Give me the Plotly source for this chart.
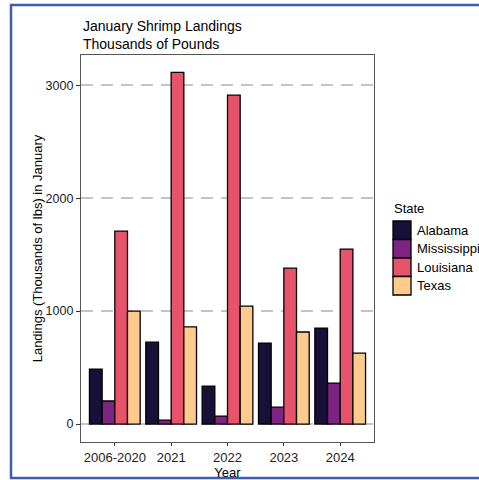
import plotly.graph_objects as go

years = ["2006-2020", "2021", "2022", "2023", "2024"]
states = ["Alabama", "Mississippi", "Louisiana", "Texas"]
alabama = [487, 725, 336, 717, 850]
mississippi = [204, 35, 70, 150, 363]
louisiana = [1708, 3115, 2912, 1380, 1549]
texas = [1000, 860, 1045, 815, 628]
colors = ["#171039", "#7D2482", "#E7536A", "#FDCB8E"]

series = [alabama, mississippi, louisiana, texas]

W, H = 479, 480
L, R, T, B = 81, 374, 55, 442

fig = go.Figure()
for name, vals, col in zip(states, series, colors):
    fig.add_trace(go.Bar(
        x=years, y=vals, name=name, showlegend=False,
        marker=dict(color=col, line=dict(color="black", width=1.3)),
    ))

def px_x(p):
    return (p - L) / (R - L)

def px_y(p):
    return (B - p) / (B - T)

# custom legend (keys + labels) built from the state / colour lists
shapes = [dict(
    type="rect", xref="paper", yref="paper",
    x0=px_x(11), x1=px_x(500), y0=px_y(478), y1=px_y(5),
    line=dict(color="#3F5BB5", width=2.5), fillcolor="rgba(0,0,0,0)",
    layer="above",
)]
annotations = [dict(
    text="January Shrimp Landings<br>Thousands of Pounds",
    xref="paper", yref="paper", x=0, y=px_y(16),
    xanchor="left", yanchor="top", align="left", showarrow=False,
    font=dict(size=14, color="black"),
), dict(
    text="State", xref="paper", yref="paper", x=px_x(392), y=px_y(208),
    xanchor="left", yanchor="middle", showarrow=False,
    font=dict(size=13, color="black"),
)]
key_top, key_h = 221, 18.5
for i, (name, col) in enumerate(zip(states, colors)):
    t = key_top + i * key_h
    shapes.append(dict(
        type="rect", xref="paper", yref="paper",
        x0=px_x(393), x1=px_x(411), y0=px_y(t + key_h), y1=px_y(t),
        fillcolor=col, line=dict(color="black", width=1.3), layer="above",
    ))
    annotations.append(dict(
        text=name, xref="paper", yref="paper", x=px_x(415), y=px_y(t + key_h / 2),
        xanchor="left", yanchor="middle", showarrow=False,
        font=dict(size=13, color="black"),
    ))

fig.update_layout(
    width=W, height=H,
    margin=dict(l=L, r=W - R, t=T, b=H - B, pad=0, autoexpand=False),
    paper_bgcolor="white", plot_bgcolor="white",
    barmode="group", bargap=0.1, bargroupgap=0,
    font=dict(family="Liberation Sans, Arial, sans-serif", size=12, color="black"),
    showlegend=False,
    xaxis=dict(
        type="category", range=[-0.6, 4.6],
        showline=True, mirror=True, linecolor="#555555", linewidth=1.2,
        ticks="outside", ticklen=3, tickcolor="#333333",
        tickfont=dict(size=13, color="#222222"),
        title=dict(text="Year", font=dict(size=13, color="black"), standoff=2),
        showgrid=False,
    ),
    yaxis=dict(
        range=[-159, 3268],
        tickvals=[0, 1000, 2000, 3000],
        showline=True, mirror=True, linecolor="#555555", linewidth=1.2,
        ticks="outside", ticklen=4, tickcolor="#333333",
        tickfont=dict(size=12.5, color="#222222"),
        showgrid=True, gridcolor="#C4C4C4", gridwidth=2, griddash="12px,8px",
        zeroline=False,
        title=dict(text="Landings (Thousands of lbs) in January",
                   font=dict(size=13, color="black"), standoff=0),
    ),
    shapes=shapes,
    annotations=annotations,
)

fig.write_html("out.html", config={"displayModeBar": False},
               post_script="document.body.style.margin='0';document.body.style.overflow='hidden';")
